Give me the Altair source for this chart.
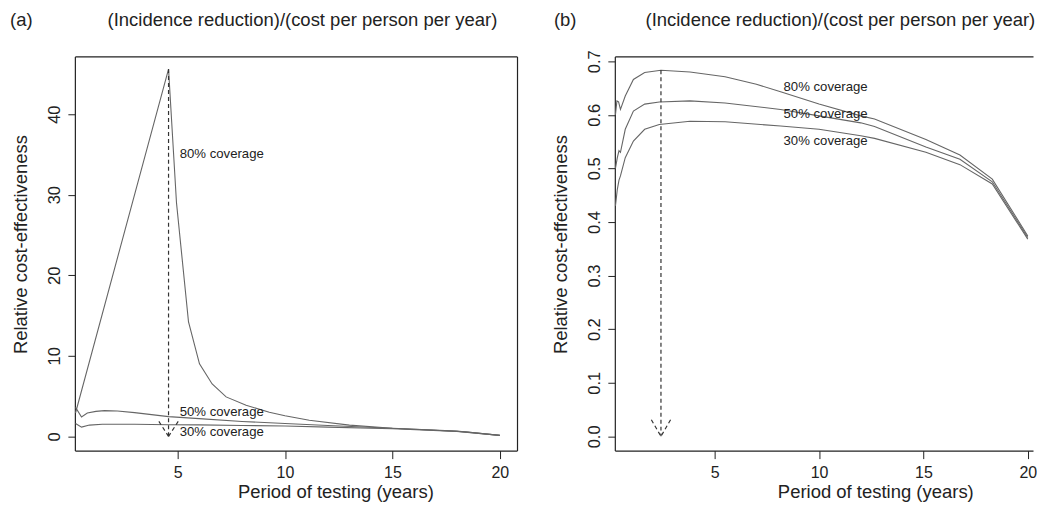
import altair as alt
import pandas as pd

FONT = "Liberation Sans"

# ---------------- Panel (a) data ----------------
a_x80 = [0.25, 4.58, 4.95, 5.51, 6.02, 6.61, 7.26, 8.19, 9.27, 10.0, 11.13, 13.0, 15.0, 17.0, 18.5, 20.0]
a_y80 = [2.9, 45.6, 29.0, 14.2, 9.0, 6.5, 4.9, 3.85, 3.0, 2.55, 2.0, 1.4, 1.0, 0.75, 0.55, 0.12]
a_x50 = [0.25, 0.53, 0.8, 1.2, 1.6, 2.2, 3.0, 4.58, 6.0, 8.0, 10.0, 12.0, 15.0, 18.0, 20.0]
a_y50 = [3.6, 2.4, 2.9, 3.1, 3.2, 3.15, 2.95, 2.45, 2.2, 1.85, 1.6, 1.35, 1.0, 0.65, 0.12]
a_x30 = [0.25, 0.53, 0.9, 1.5, 3.0, 4.58, 6.0, 8.0, 10.0, 12.0, 15.0, 18.0, 20.0]
a_y30 = [1.6, 1.15, 1.4, 1.5, 1.5, 1.45, 1.42, 1.35, 1.28, 1.15, 0.95, 0.62, 0.12]
a_label_text = ["80% coverage", "50% coverage", "30% coverage"]
a_label_x = [5.10, 5.10, 5.10]
a_label_y = [35.1, 3.02, 0.55]
a_arrow_x = [4.58, 4.13, 5.03]
a_arrow_y = [45.6, 1.86, 1.86]
a_arrow_x2 = [4.58, 4.58, 4.58]
a_arrow_y2 = [0.0, 0.0, 0.0]
a_yticks = [0, 10, 20, 30, 40]

# ---------------- Panel (b) data ----------------
b_x80 = [0.25, 0.32, 0.40, 0.49, 0.72, 1.11, 1.65, 2.43, 3.82, 5.5, 7.0, 8.16, 10.0, 12.0, 12.66, 15.12, 16.75, 18.3, 20.0]
b_y80 = [0.600, 0.626, 0.624, 0.610, 0.635, 0.666, 0.679, 0.683, 0.680, 0.671, 0.657, 0.643, 0.620, 0.598, 0.592, 0.554, 0.525, 0.480, 0.374]
b_x50 = [0.25, 0.34, 0.42, 0.49, 0.72, 1.11, 1.65, 2.35, 3.82, 5.5, 8.16, 10.0, 12.0, 12.66, 15.12, 16.75, 18.3, 20.0]
b_y50 = [0.500, 0.520, 0.533, 0.530, 0.573, 0.607, 0.620, 0.624, 0.626, 0.622, 0.610, 0.598, 0.585, 0.578, 0.540, 0.517, 0.475, 0.371]
b_x30 = [0.25, 0.34, 0.42, 0.49, 0.72, 1.11, 1.65, 2.35, 3.82, 5.5, 8.16, 10.0, 12.0, 12.66, 15.12, 16.75, 18.3, 20.0]
b_y30 = [0.430, 0.461, 0.478, 0.486, 0.520, 0.551, 0.573, 0.582, 0.588, 0.587, 0.579, 0.573, 0.561, 0.556, 0.530, 0.507, 0.471, 0.368]
b_label_text = ["80% coverage", "50% coverage", "30% coverage"]
b_label_x = [8.3, 8.3, 8.3]
b_label_y = [0.651, 0.601, 0.551]
b_arrow_x = [2.43, 1.97, 2.89]
b_arrow_y = [0.683, 0.031, 0.031]
b_arrow_x2 = [2.43, 2.43, 2.43]
b_arrow_y2 = [0.0, 0.0, 0.0]
b_yticks = [0.0, 0.1, 0.2, 0.3, 0.4, 0.5, 0.6, 0.7]

x_ticks = [5, 10, 15, 20]
main_title = "(Incidence reduction)/(cost per person per year)"
x_title = "Period of testing (years)"
y_title = "Relative cost-effectiveness"

H = 395
INK = "#222222"
FRAME = dict(domain=True, domainColor=INK, domainWidth=1.2, grid=False)


def curves_df(series):
    rows = []
    for name, xs, ys in series:
        for i, (xv, yv) in enumerate(zip(xs, ys)):
            rows.append({"s": name, "i": i, "x": xv, "y": yv})
    return pd.DataFrame(rows)


def panel(series, lab_t, lab_x, lab_y, ax, ay, ax2, ay2, yticks, yfmt,
          xdom, ydom, tag, tag_x, title_cx, W, right_edge):
    xs = alt.Scale(domain=xdom, nice=False, zero=False)
    ys = alt.Scale(domain=ydom, nice=False, zero=False)
    xaxis = alt.Axis(values=x_ticks, title=x_title, tickSize=8, labelPadding=6,
                     labelFontSize=16, titleFontSize=18.5,
                     titleFontWeight="normal", titleX=261, titleY=47,
                     titleAlign="center", titleBaseline="alphabetic",
                     labelFlush=False, **FRAME)
    yaxis = alt.Axis(values=yticks, format=yfmt, title=y_title, tickSize=7,
                     labelPadding=8, labelFontSize=16.5, labelAngle=270,
                     labelAlign="center", labelBaseline="alphabetic",
                     titleFontSize=18.5, titleFontWeight="normal",
                     titleAngle=270, titleX=-48, titleY=188,
                     titleAlign="center", titleBaseline="alphabetic",
                     labelFlush=False, **FRAME)
    top_axis = alt.Axis(orient="top", labels=False, ticks=False, title=None, **FRAME)
    if right_edge:
        right_axis = alt.Axis(orient="right", labels=False, ticks=False, title=None, **FRAME)
    else:
        right_axis = None
    lines = alt.Chart(curves_df(series)).mark_line(
        color="#666666", strokeWidth=1.1, clip=True
    ).encode(
        x=alt.X("x:Q", scale=xs, axis=xaxis),
        y=alt.Y("y:Q", scale=ys, axis=yaxis),
        detail="s:N",
        order="i:Q",
    )
    arrows = alt.Chart(pd.DataFrame({"x": ax, "y": ay, "x2": ax2, "y2": ay2})).mark_rule(
        color="#333333", strokeDash=[4, 3], strokeWidth=1.2
    ).encode(
        x=alt.X("x:Q", scale=xs, axis=top_axis),
        y=alt.Y("y:Q", scale=ys, axis=right_axis),
        x2="x2:Q", y2="y2:Q",
    )
    texts = alt.Chart(pd.DataFrame({"t": lab_t, "x": lab_x, "y": lab_y})).mark_text(
        align="left", baseline="middle", fontSize=13.2, font=FONT, color=INK
    ).encode(x=alt.X("x:Q", axis=None), y=alt.Y("y:Q", axis=None), text="t:N")
    tagm = alt.Chart(pd.DataFrame({"t": [tag]})).mark_text(
        align="left", baseline="middle", fontSize=18.5, font=FONT, color=INK
    ).encode(x=alt.value(tag_x), y=alt.value(-36), text="t:N")
    titlem = alt.Chart(pd.DataFrame({"t": [main_title]})).mark_text(
        align="center", baseline="middle", fontSize=18.5, font=FONT, color=INK
    ).encode(x=alt.value(title_cx), y=alt.value(-36), text="t:N")
    return alt.layer(lines, arrows, texts, tagm, titlem).resolve_axis(
        x="independent", y="independent"
    ).properties(width=W, height=H)


pa = panel([("80", a_x80, a_y80), ("50", a_x50, a_y50), ("30", a_x30, a_y30)],
           a_label_text, a_label_x, a_label_y,
           a_arrow_x, a_arrow_y, a_arrow_x2, a_arrow_y2,
           a_yticks, "d", [0.22, 20.8], [-1.77, 47.17], "(a)", -65, 228,
           443, True)
pb = panel([("80", b_x80, b_y80), ("50", b_x50, b_y50), ("30", b_x30, b_y30)],
           b_label_text, b_label_x, b_label_y,
           b_arrow_x, b_arrow_y, b_arrow_x2, b_arrow_y2,
           b_yticks, ".1f", [0.22, 20.25], [-0.0266, 0.709], "(b)", -61, 226,
           419, False)

chart = alt.hconcat(pa, pb, spacing=35).properties(
    padding={"left": 2, "top": 3, "right": 0, "bottom": 0}
).configure(font=FONT).configure_view(
    stroke=None
).configure_axis(
    labelColor=INK, tickColor=INK, titleColor=INK,
    labelFont=FONT, titleFont=FONT
)

chart.save("out.html", embed_options={"renderer": "svg", "actions": False})
